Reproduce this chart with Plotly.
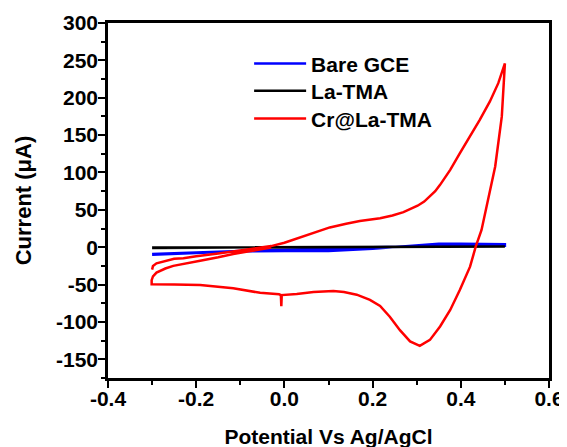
import plotly.graph_objects as go

# Bare GCE (forward then reverse scan)
bare_x = [-0.30, -0.20, -0.10, 0.00, 0.10, 0.20, 0.30, 0.35, 0.40, 0.50,
          0.50, 0.40, 0.30, 0.20, 0.10, 0.00, -0.10, -0.20, -0.30]
bare_y = [-10.0, -7.5, -5.5, -5.0, -5.0, -2.0, 3.0, 4.5, 4.5, 4.0,
          2.0, 2.0, 1.0, 0.0, -2.0, -3.5, -5.0, -7.0, -9.0]

# La-TMA
la_x = [-0.30, 0.10, 0.50, 0.50, 0.10, -0.30]
la_y = [-0.5, 0.2, 1.0, 0.5, -0.2, -1.0]

# Cr@La-TMA (forward, reverse, start of next forward)
cr_x = [-0.300, -0.298, -0.290, -0.270, -0.250, -0.229, -0.200, -0.150, -0.116, -0.080,
        -0.055, -0.030, 0.000, 0.035, 0.069, 0.103, 0.140, 0.171, 0.217, 0.245,
        0.270, 0.287, 0.302, 0.317, 0.330, 0.342, 0.353, 0.376, 0.398, 0.421,
        0.443, 0.466, 0.485, 0.500,
        0.493, 0.478, 0.462, 0.447, 0.434, 0.421, 0.398, 0.376, 0.353, 0.330,
        0.307, 0.285, 0.262, 0.239, 0.217, 0.194, 0.164, 0.135, 0.111, 0.066,
        0.028, 0.001, -0.006, -0.007, -0.008, -0.012, -0.055, -0.116, -0.191, -0.250,
        -0.301, -0.301, -0.298, -0.290, -0.270, -0.252, -0.220, -0.191, -0.150, -0.116,
        -0.080, -0.055, -0.030]
cr_y = [-30.0, -25.0, -21.5, -18.0, -15.5, -14.7, -12.0, -8.5, -5.8, -3.0,
        -1.4, 1.5, 6.0, 13.0, 19.5, 26.5, 31.5, 35.0, 38.8, 42.5,
        47.0, 51.0, 55.5, 61.0, 67.7, 75.0, 83.4, 103.5, 125.8, 148.0,
        170.4, 195.0, 219.5, 246.0,
        175.0, 108.0, 63.0, 23.0, 1.0, -26.0, -57.0, -84.0, -106.0, -124.0,
        -132.0, -126.0, -111.0, -93.0, -78.6, -70.5, -63.5, -60.0, -58.5, -60.0,
        -62.5, -64.0, -64.0, -79.0, -64.0, -63.0, -61.0, -55.0, -50.5, -50.0,
        -49.5, -44.0, -39.0, -34.0, -28.5, -25.0, -21.0, -18.0, -13.5, -9.0,
        -5.5, -3.0, -0.5]

x_ticks = [-0.4, -0.2, 0.0, 0.2, 0.4, 0.6]
x_labels = ["-0.4", "-0.2", "0.0", "0.2", "0.4", "0.6"]
y_ticks = [-150, -100, -50, 0, 50, 100, 150, 200, 250, 300]
y_labels = ["-150", "-100", "-50", "0", "50", "100", "150", "200", "250", "300"]

FONT = "Liberation Sans, Arial, sans-serif"
LEG_FONT = dict(family=FONT, size=21, color="black", weight="bold")

fig = go.Figure()
fig.add_trace(go.Scatter(x=bare_x, y=bare_y, mode="lines", name="Bare GCE",
                         line=dict(color="#0000FF", width=2.5), legend="legend"))
fig.add_trace(go.Scatter(x=la_x, y=la_y, mode="lines", name="La-TMA",
                         line=dict(color="#000000", width=2.5), legend="legend2"))
fig.add_trace(go.Scatter(x=cr_x, y=cr_y, mode="lines", name="Cr@La-TMA",
                         line=dict(color="#FF0000", width=2.5), legend="legend3"))

axis_common = dict(
    showgrid=False, zeroline=False, showline=True, linecolor="black", linewidth=2.5,
    mirror=True, ticks="outside", ticklen=7, tickwidth=2, tickcolor="black",
    automargin=False,
    tickfont=dict(family=FONT, size=21, color="black", weight="bold"),
)

fig.update_xaxes(range=[-0.4, 0.6], tickvals=x_ticks, ticktext=x_labels, ticklabelstandoff=-7,
                 minor=dict(dtick=0.1, ticks="outside", ticklen=4, tickwidth=2, tickcolor="black"),
                 title=dict(text="Potential Vs Ag/AgCl", standoff=21,
                            font=dict(family=FONT, size=21, color="black", weight="bold")),
                 **axis_common)
fig.update_yaxes(range=[-175, 300], tickvals=y_ticks, ticktext=y_labels, ticklabelstandoff=-4,
                 minor=dict(dtick=25, ticks="outside", ticklen=4, tickwidth=2, tickcolor="black"),
                 title=dict(text="Current (μA)", standoff=19,
                            font=dict(family=FONT, size=22, color="black", weight="bold")),
                 **axis_common)

leg_common = dict(x=0.32, xanchor="left", yanchor="middle", bgcolor="rgba(0,0,0,0)",
                  borderwidth=0, itemwidth=52, font=LEG_FONT)

# page body adds an 8px offset, margins compensate for it
fig.update_layout(
    width=567, height=447,
    margin=dict(l=100, r=26, t=15, b=77),
    paper_bgcolor="white", plot_bgcolor="white",
    showlegend=True,
    legend=dict(y=0.885, **leg_common),
    legend2=dict(y=0.808, **leg_common),
    legend3=dict(y=0.730, **leg_common),
)

fig.write_html("out.html")
